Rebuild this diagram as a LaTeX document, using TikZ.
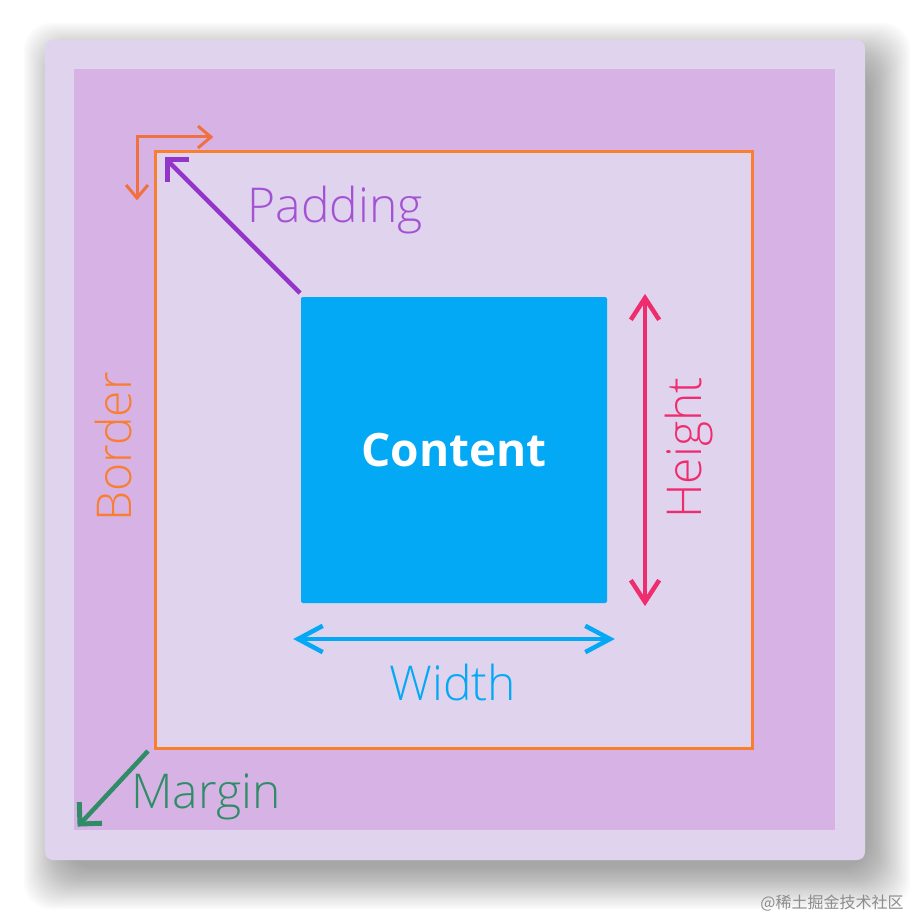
\documentclass[tikz,border=0pt]{standalone}
\usepackage{fontspec}
\setmainfont{Open Sans}
\newfontfamily\lightfont{Open Sans Light}
\newfontfamily\cjkfont{Noto Sans CJK SC}
\usetikzlibrary{calc}
\definecolor{cardbg}{HTML}{E0D3EE}
\definecolor{marginbg}{HTML}{D7B3E5}
\definecolor{bordorange}{HTML}{F97E2F}
\definecolor{bordarrow}{HTML}{F0703F}
\definecolor{contentblue}{HTML}{03A9F4}
\definecolor{padpurple}{HTML}{9334CB}
\definecolor{heightpink}{HTML}{EF2C6E}
\definecolor{margingreen}{HTML}{2F8C66}
\tikzset{
  lbl/.style={inner sep=0pt, font=\lightfont\fontsize{48}{57}\selectfont},
  shaft/.style={line width=#1, line cap=butt},
  chevron/.style={line width=#1, line join=miter, miter limit=10, line cap=butt}
}
% \mychev{colour}{tip}{towards}{arm length}{half angle}{line width}
\newcommand\mychev[6]{%
  \draw[#1, chevron=#6] ($(#2)!#4!#5:(#3)$) -- (#2) -- ($(#2)!#4!-#5:(#3)$);}
\begin{document}
\begin{tikzpicture}[x=1pt,y=-1pt]
\useasboundingbox (0,0) rectangle (920,920);
\fill[white] (0,0) rectangle (920,920);
% shadow
\foreach \i in {0,...,23}{
  \fill[black, opacity=0.016, rounded corners=28pt]
    ({45+20-\i*1.8},{40+24-\i*1.8}) rectangle ({865+4+\i*1.8},{860+8+\i*1.8});
}
% card
\fill[cardbg, rounded corners=8pt] (45,40) rectangle (865,860);
% margin area
\fill[marginbg] (74,69) rectangle (835,830);
% border box
\draw[bordorange, fill=cardbg, line width=3pt] (155,152) rectangle (752,748);
% content
\node[fill=contentblue, rounded corners=2pt, minimum width=306pt, minimum height=306pt, inner sep=0pt,
      text=white, font=\fontsize{46}{55}\selectfont\bfseries] (content) at (454,450) {Content};
% coordinates
\coordinate (padS) at (300,293);
\coordinate (padE) at (167,160);
\coordinate (bcorner) at (137,137);
\coordinate (bH) at (211,137);
\coordinate (bV) at (137,198);
\coordinate (hT) at (645,298);
\coordinate (hB) at (645,602);
\coordinate (wL) at (298,639);
\coordinate (wR) at (610,639);
\coordinate (mS) at (148,751);
\coordinate (mE) at (80,824);
% shafts
\draw[padpurple, shaft=4.5pt] (padS) -- (padE);
\draw[bordarrow, shaft=3pt, line join=miter] (bH) -- (bcorner) -- (bV);
\draw[heightpink, shaft=4pt] (hT) -- (hB);
\draw[contentblue, shaft=4pt] (wL) -- (wR);
\draw[margingreen, shaft=4.5pt] (mS) -- (mE);
% heads
\mychev{padpurple}{padE}{padS}{22pt}{45}{5pt}
\mychev{bordarrow}{bH}{bcorner}{17pt}{40}{3pt}
\mychev{bordarrow}{bV}{bcorner}{17pt}{40}{3pt}
\mychev{heightpink}{hT}{hB}{26pt}{33}{4.5pt}
\mychev{heightpink}{hB}{hT}{26pt}{33}{4.5pt}
\mychev{contentblue}{wL}{wR}{28pt}{28}{4.5pt}
\mychev{contentblue}{wR}{wL}{28pt}{28}{4.5pt}
\mychev{margingreen}{mE}{mS}{22pt}{45}{5pt}
% labels
\node[lbl, text=padpurple!85!white] (padding) at (335,210) {Padding};
\node[lbl, text=heightpink, rotate=90] (height) at (689,448) {Height};
\node[lbl, text=contentblue] (width) at (453,682) {Width};
\node[lbl, text=bordorange, rotate=90] (border) at (113,447) {Border};
\node[lbl, text=margingreen] (margin) at (206,797) {Margin};
% watermark
\node[inner sep=0pt, text=black!45, font=\cjkfont\fontsize{16}{19}\selectfont] (wm) at (832,903) {@稀土掘金技术社区};
\end{tikzpicture}
\end{document}
